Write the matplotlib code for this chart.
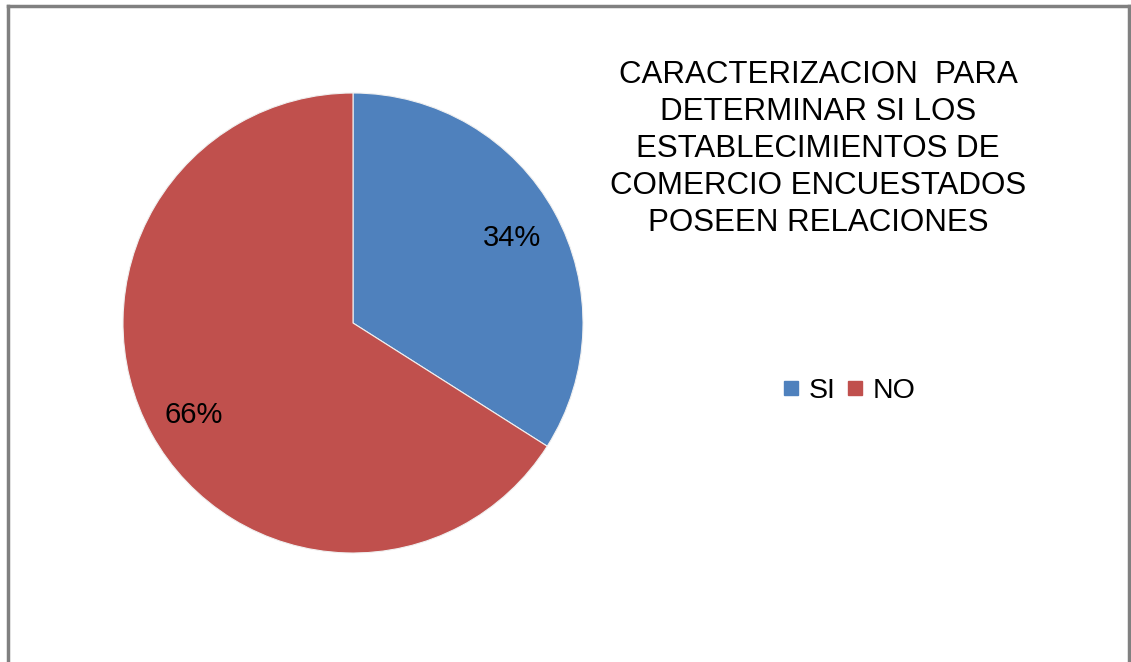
import matplotlib
matplotlib.use("Agg")
import matplotlib.pyplot as plt
from matplotlib.lines import Line2D

labels = ["SI", "NO"]
values = [34, 66]
colors = ["#4F81BD", "#C0504D"]
title = "CARACTERIZACION  PARA\nDETERMINAR SI LOS\nESTABLECIMIENTOS DE\nCOMERCIO ENCUESTADOS\nPOSEEN RELACIONES"

plt.rcParams['font.family'] = ['Liberation Sans', 'DejaVu Sans']

W, H = 1131, 662
fig = plt.figure(figsize=(W / 100, H / 100), dpi=100)
fig.patch.set_facecolor("white")

cx, cy, r = 353, 323, 230
ax = fig.add_axes([(cx - r) / W, 1 - (cy + r) / H, 2 * r / W, 2 * r / H])
wedges, texts, autotexts = ax.pie(
    values, colors=colors, startangle=90, counterclock=False,
    autopct=lambda p: f"{p:.0f}%", pctdistance=0.79, radius=1,
    wedgeprops=dict(edgecolor="#f0f0f0", linewidth=0.8),
    textprops=dict(fontsize=21, color="black"))
autotexts[0].set_position((autotexts[0].get_position()[0], autotexts[0].get_position()[1] - 0.01))
autotexts[1].set_position((autotexts[1].get_position()[0], autotexts[1].get_position()[1] - 0.02))
ax.set_xlim(-1, 1)
ax.set_ylim(-1, 1)
ax.set_aspect("auto")
ax.axis("off")

fig.text(818 / W, 1 - 60 / H, title, ha="center", va="top", fontsize=22.5,
         color="black", linespacing=1.3)

handles = [Line2D([], [], marker="s", linestyle="none", markersize=10,
                  markerfacecolor=c, markeredgecolor=c) for c in colors]
fig.legend(handles, labels, loc="center", bbox_to_anchor=(849 / W, 1 - 391 / H),
           ncol=2, frameon=False, fontsize=20.5, handlelength=0.6,
           handletextpad=0.3, columnspacing=0.4)

# border (left, top, right)
lc = "#808080"
fig.add_artist(Line2D([8 / W, 8 / W], [0, 1 - 6 / H], color=lc, lw=2.5, transform=fig.transFigure))
fig.add_artist(Line2D([8 / W, 1129 / W], [1 - 6 / H, 1 - 6 / H], color=lc, lw=2.5, transform=fig.transFigure))
fig.add_artist(Line2D([1129 / W, 1129 / W], [0, 1 - 6 / H], color=lc, lw=2.5, transform=fig.transFigure))

fig.savefig("out.png", dpi=100)
